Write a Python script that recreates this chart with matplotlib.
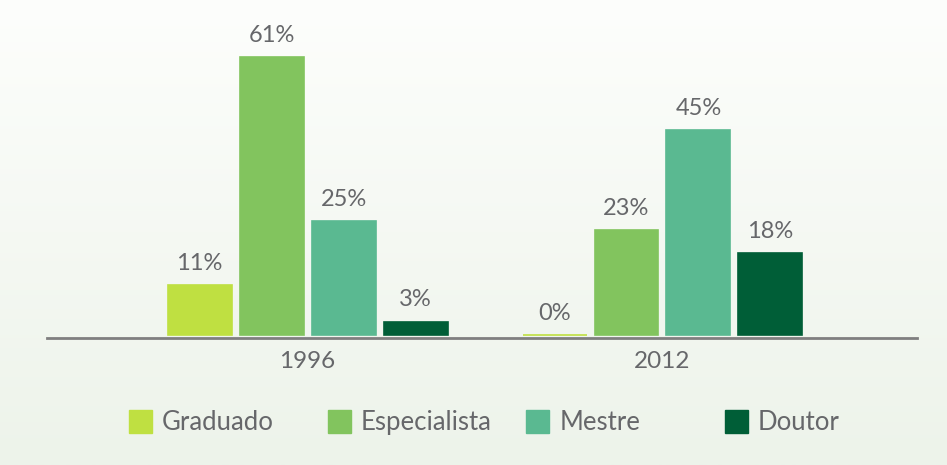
import numpy as np
import matplotlib
matplotlib.use("Agg")
import matplotlib.pyplot as plt
from matplotlib.patches import Rectangle

years = ["1996", "2012"]
categories = ["Graduado", "Especialista", "Mestre", "Doutor"]
values = {
    "Graduado": [11, 0],
    "Especialista": [61, 23],
    "Mestre": [25, 45],
    "Doutor": [3, 18],
}
colors = ["#bfe041", "#82c45e", "#5ab991", "#005e37"]

plt.rcParams['font.family'] = ['Lato', 'DejaVu Sans']
txt_color = "#66676a"

fig = plt.figure(figsize=(9.47, 4.65), dpi=100)

# soft background gradient
bg = fig.add_axes([0, 0, 1, 1], zorder=-10)
grad = np.linspace(0, 1, 256).reshape(-1, 1)
top = np.array(matplotlib.colors.to_rgb("#fdfefc"))
bot = np.array(matplotlib.colors.to_rgb("#edf3ea"))
img = top + (bot - top) * grad[..., None]
bg.imshow(img, aspect="auto", extent=[0, 1, 0, 1], origin="upper")
bg.axis("off")

ax = fig.add_axes([47 / 947, 127 / 465, 870 / 947, 338 / 465])
ax.patch.set_alpha(0)

step = 72 / 355
width = 64 / 355
x = np.arange(len(years))
for i, (cat, col) in enumerate(zip(categories, colors)):
    pos = x + (i - 1.5) * step
    bars = ax.bar(pos, values[cat], width, color=col, edgecolor=col,
                  linewidth=1.2, label=cat, zorder=3)
    for b, v in zip(bars, values[cat]):
        ax.annotate(f"{v}%", (b.get_x() + b.get_width() / 2, v),
                    xytext=(0, 8), textcoords="offset points",
                    ha="center", va="bottom", fontsize=17, color=txt_color)

ax.set_xlim(-0.734, 1.717)
ax.set_ylim(-0.6, 338 / 4.56 - 0.6)
ax.set_xticks(x)
ax.set_xticklabels(years, fontsize=17.5, color=txt_color)
ax.tick_params(axis="x", length=0, pad=9)
ax.set_yticks([])
for s in ["top", "right", "left"]:
    ax.spines[s].set_visible(False)
ax.spines["bottom"].set_color("#7f7f7f")
ax.spines["bottom"].set_linewidth(2)

# legend drawn as evenly spaced entries
for i, (cat, col) in enumerate(zip(categories, colors)):
    x0 = 129 + i * 198.7
    fig.patches.append(Rectangle((x0 / 947, (465 - 433) / 465), 23 / 947, 23 / 465,
                                 transform=fig.transFigure, color=col))
    fig.text((x0 + 33) / 947, (465 - 422) / 465, cat, fontsize=18.5,
             color=txt_color, va="center", ha="left")

fig.savefig("out.png", dpi=100)
